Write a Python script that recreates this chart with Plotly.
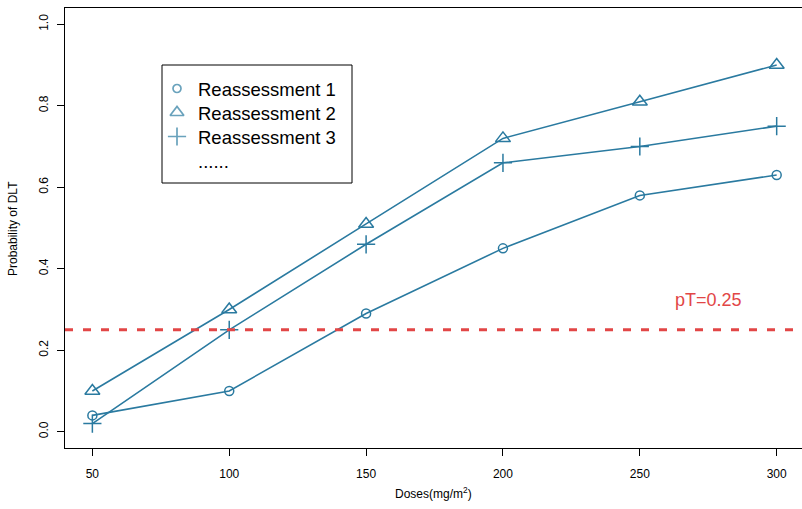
import plotly.graph_objects as go

doses = [50, 100, 150, 200, 250, 300]
reassess1 = [0.04, 0.10, 0.29, 0.45, 0.58, 0.63]
reassess2 = [0.10, 0.30, 0.51, 0.72, 0.81, 0.90]
reassess3 = [0.02, 0.25, 0.46, 0.66, 0.70, 0.75]
series_names = ["Reassessment 1", "Reassessment 2", "Reassessment 3"]
legend_extra = "......"
symbols = ["circle-open", "triangle-up-open", "cross-thin-open"]
sizes = [9, 13, 13]
legend_sizes = [8, 12, 13]
pT = 0.25
x_ticks = [50, 100, 150, 200, 250, 300]
y_ticks = [0.0, 0.2, 0.4, 0.6, 0.8, 1.0]
y_ticklabels = ["0.0", "0.2", "0.4", "0.6", "0.8", "1.0"]

LINE = "#2a7aa0"
RED = "#e24646"
FONT = "Liberation Sans, Arial, sans-serif"

# pixel-based overlay geometry (plot area: x 65..802, y 8..448)
PX0, PX1, PY0, PY1 = 65, 802, 448, 8

fig = go.Figure()

for vals in [reassess1, reassess2, reassess3]:
    fig.add_trace(go.Scatter(x=doses, y=vals, mode="lines",
                             line=dict(color=LINE, width=1.6),
                             showlegend=False, hoverinfo="skip"))
for name, vals, sym, sz in zip(series_names, [reassess1, reassess2, reassess3], symbols, sizes):
    fig.add_trace(go.Scatter(x=doses, y=vals, mode="markers", name=name, showlegend=False,
                             marker=dict(symbol=sym, size=sz, color=LINE,
                                         line=dict(color=LINE, width=1.5))))

# manual legend on overlay axes (pixel coordinates)
leg_rows_y = [88.5, 112.5, 136.5, 160.5]
leg_sym_x = 177
leg_text_x = 196
fig.add_trace(go.Scatter(x=[leg_sym_x] * 3, y=leg_rows_y[:3], xaxis="x2", yaxis="y2",
                         mode="markers", showlegend=False, hoverinfo="skip",
                         marker=dict(symbol=symbols, size=legend_sizes, color=LINE,
                                     line=dict(color=LINE, width=1.7))))
for label, yy in zip(series_names + [legend_extra], leg_rows_y):
    fig.add_annotation(x=leg_text_x, y=yy + 1, xref="x2", yref="y2", text=label,
                       showarrow=False, xanchor="left", yanchor="middle",
                       font=dict(size=18.5, color="black", family=FONT))
fig.add_shape(type="rect", xref="x2", yref="y2", x0=162, x1=352, y0=65, y1=183,
              line=dict(color="black", width=1), fillcolor="rgba(0,0,0,0)")

# reference line
fig.add_shape(type="line", xref="paper", x0=0, x1=1, yref="y", y0=pT, y1=pT,
              line=dict(color=RED, width=3, dash="8px,10px"))
fig.add_annotation(x=275, y=0.323, xref="x", yref="y", text="pT=0.25",
                   showarrow=False, xanchor="center", yanchor="middle",
                   font=dict(color=RED, size=18, family=FONT))

# axis titles
fig.add_annotation(x=(13 - 65) / 737, y=(448 - 229) / 440, xref="paper", yref="paper",
                   text="Probability of DLT", xanchor="center", yanchor="middle",
                   showarrow=False, textangle=-90,
                   font=dict(size=12, color="black", family=FONT))
fig.add_annotation(x=0.5, y=(448 - 493) / 440, xref="paper", yref="paper",
                   text="Doses(mg/m<sup>2</sup>)", showarrow=False,
                   xanchor="center", yanchor="middle",
                   font=dict(size=12, color="black", family=FONT))

fig.update_layout(
    width=802, height=509,
    margin=dict(l=65, r=0, t=8, b=61),
    paper_bgcolor="white", plot_bgcolor="white",
    font=dict(family=FONT, color="black", size=12),
    showlegend=False,
    xaxis=dict(range=[40, 309.25], tickmode="array", tickvals=x_ticks,
               showgrid=False, zeroline=False, showline=True, mirror=True,
               linecolor="black", linewidth=1, ticks="outside", ticklen=7,
               tickcolor="black", tickfont=dict(size=12), ticklabelstandoff=8),
    yaxis=dict(range=[-0.04, 1.04], tickmode="array", tickvals=y_ticks,
               ticktext=y_ticklabels, tickangle=-90,
               showgrid=False, zeroline=False, showline=True, mirror=False,
               linecolor="black", linewidth=1, ticks="outside", ticklen=7,
               tickcolor="black", tickfont=dict(size=12), ticklabelstandoff=4),
    xaxis2=dict(range=[PX0, PX1], overlaying="x", visible=False, fixedrange=True),
    yaxis2=dict(range=[PY0, PY1], overlaying="y", visible=False, fixedrange=True),
)

fig.write_html("out.html")
